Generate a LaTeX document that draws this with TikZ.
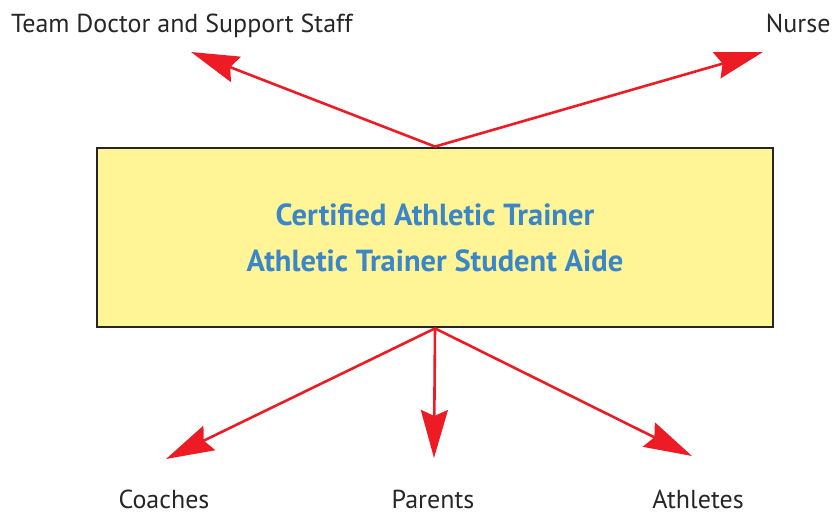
\documentclass[tikz,border=0pt]{standalone}
\usepackage{fontspec}
\setmainfont{PT Sans}
\usetikzlibrary{arrows.meta}

\definecolor{linkred}{RGB}{237,28,36}
\definecolor{boxyellow}{RGB}{255,245,150}
\definecolor{roleblue}{RGB}{58,134,200}

\begin{document}
\begin{tikzpicture}[x=1pt, y=-1pt,
    link/.style={-{Stealth[length=48pt, width=27pt, inset=6pt]}, line width=2.6pt, linkred},
    person/.style={font=\fontsize{26}{30}\selectfont, text=black!85, anchor=base}]
    \useasboundingbox (0,0) rectangle (836,514);

    % the trainer box in the middle
    \node[draw=black!85, line width=2.8pt, fill=boxyellow, minimum width=676pt,
          minimum height=179pt, inner sep=0pt, align=center, text=roleblue,
          font=\bfseries\fontsize{30.5}{46}\selectfont] (trainer) at (435,237.5)
        {Certified Athletic Trainer\\Athletic Trainer Student Aide};

    \node[person] (doctor) at (182,32) {Team Doctor and Support Staff};
    \node[person, anchor=base east] (nurse) at (834,32) {Nurse};
    \node[person] (coaches) at (164,508) {Coaches};
    \node[person] (parents) at (433,508) {Parents};
    \node[person] (athletes) at (698,508) {Athletes};

    % arrow tips stop short of the labels
    \coordinate (doctortip) at (191,52);
    \coordinate (nursetip) at (763,52);
    \coordinate (coachtip) at (166,459);
    \coordinate (parenttip) at (434,458);
    \coordinate (athletetip) at (692,456);

    \draw[link] (trainer.north) -- (doctortip);
    \draw[link] (trainer.north) -- (nursetip);
    \draw[link] (trainer.south) -- (coachtip);
    \draw[link] (trainer.south) -- (parenttip);
    \draw[link] (trainer.south) -- (athletetip);
\end{tikzpicture}
\end{document}
